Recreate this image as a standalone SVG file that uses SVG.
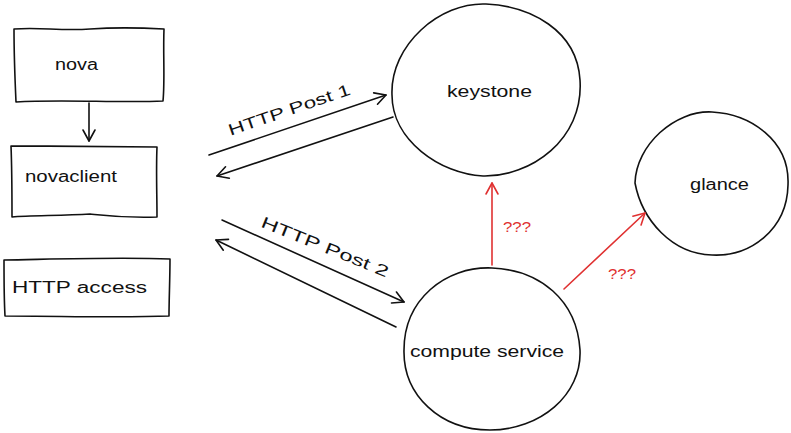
<svg xmlns="http://www.w3.org/2000/svg" width="791" height="433" viewBox="0 0 791 433">
<style>
.s{fill:none;stroke:#111;stroke-width:1.6;stroke-linecap:round;stroke-linejoin:round}
.r{fill:none;stroke:#e03131;stroke-width:1.6;stroke-linecap:round}
.t{font-family:"Liberation Sans","DejaVu Sans",sans-serif;font-size:16px;fill:#111}
.rt{font-family:"Liberation Sans","DejaVu Sans",sans-serif;font-size:14px;fill:#e03131}
</style>
<defs>
<marker id="ah" markerUnits="userSpaceOnUse" markerWidth="16" markerHeight="16" refX="13" refY="8" orient="auto">
<path d="M2,2 L13,8 L2,14" fill="none" stroke="#111" stroke-width="1.6" stroke-linecap="round" stroke-linejoin="round"/>
</marker>
<marker id="ahr" markerUnits="userSpaceOnUse" markerWidth="16" markerHeight="16" refX="13" refY="8" orient="auto">
<path d="M2,2 L13,8 L2,14" fill="none" stroke="#e03131" stroke-width="1.6" stroke-linecap="round" stroke-linejoin="round"/>
</marker>
</defs>
<g id="nova">
<path class="s" d="M14,29 C40,27 60,31 90,29 C120,27 145,28 164,29 C163,55 165,80 163,101 C120,103 60,99 16,102 C15,80 14,55 14,29 Z"/>
<text class="t" x="55" y="70" textLength="43" lengthAdjust="spacingAndGlyphs">nova</text>
</g>
<g id="novaclient">
<path class="s" d="M11,146 C60,146 110,147 157,147 C156,170 157,195 157,217 C120,218 100,215 90,214 C60,216 30,215 12,217 C12,195 12,170 11,146 Z"/>
<text class="t" x="25" y="182" textLength="92" lengthAdjust="spacingAndGlyphs">novaclient</text>
</g>
<g id="http-access">
<path class="s" d="M4,260 C60,259 120,257 170,259 C170,278 169,300 169,316 C120,318 60,316 5,316 C4,298 4,278 4,260 Z"/>
<text class="t" x="12" y="293" textLength="135" lengthAdjust="spacingAndGlyphs">HTTP access</text>
</g>
<g id="keystone">
<path class="s" d="M486,4 C530,6 577,30 580,80 C584,140 530,177 483,176 C440,174 392,140 392,95 C390,45 440,2 486,4 Z"/>
<text class="t" x="447" y="97" textLength="85" lengthAdjust="spacingAndGlyphs">keystone</text>
</g>
<g id="glance">
<path class="s" d="M712,112 C750,114 790,140 788,185 C787,230 750,257 712,255 C672,254 642,220 635,183 C636,145 675,110 712,112 Z"/>
<text class="t" x="690" y="190" textLength="59" lengthAdjust="spacingAndGlyphs">glance</text>
</g>
<g id="compute-service">
<path class="s" d="M492,268 C540,270 577,300 580,350 C582,395 540,430 490,430 C440,430 403,395 404,350 C404,300 445,266 492,268 Z"/>
<text class="t" x="410" y="357" textLength="154" lengthAdjust="spacingAndGlyphs">compute service</text>
</g>
<g id="connectors">
<path class="s" d="M89,103 L89,141" marker-end="url(#ah)"/>
<path class="s" d="M209,155 L386,95" marker-end="url(#ah)"/>
<path class="s" d="M393,117 L217,176" marker-end="url(#ah)"/>
<path class="s" d="M222,220 L404,302" marker-end="url(#ah)"/>
<path class="s" d="M396,327 L216,240" marker-end="url(#ah)"/>
<path class="r" d="M492,265 L492,183" marker-end="url(#ahr)"/>
<path class="r" d="M564,289 L645,213" marker-end="url(#ahr)"/>
<text class="t" transform="translate(291,115) rotate(-19)" text-anchor="middle" textLength="128" lengthAdjust="spacingAndGlyphs">HTTP Post 1</text>
<text class="t" transform="translate(323,252) rotate(22)" text-anchor="middle" textLength="136" lengthAdjust="spacingAndGlyphs">HTTP Post 2</text>
<text class="rt" x="503" y="232" textLength="28" lengthAdjust="spacingAndGlyphs">???</text>
<text class="rt" x="608" y="279" textLength="28" lengthAdjust="spacingAndGlyphs">???</text>
</g>
</svg>
